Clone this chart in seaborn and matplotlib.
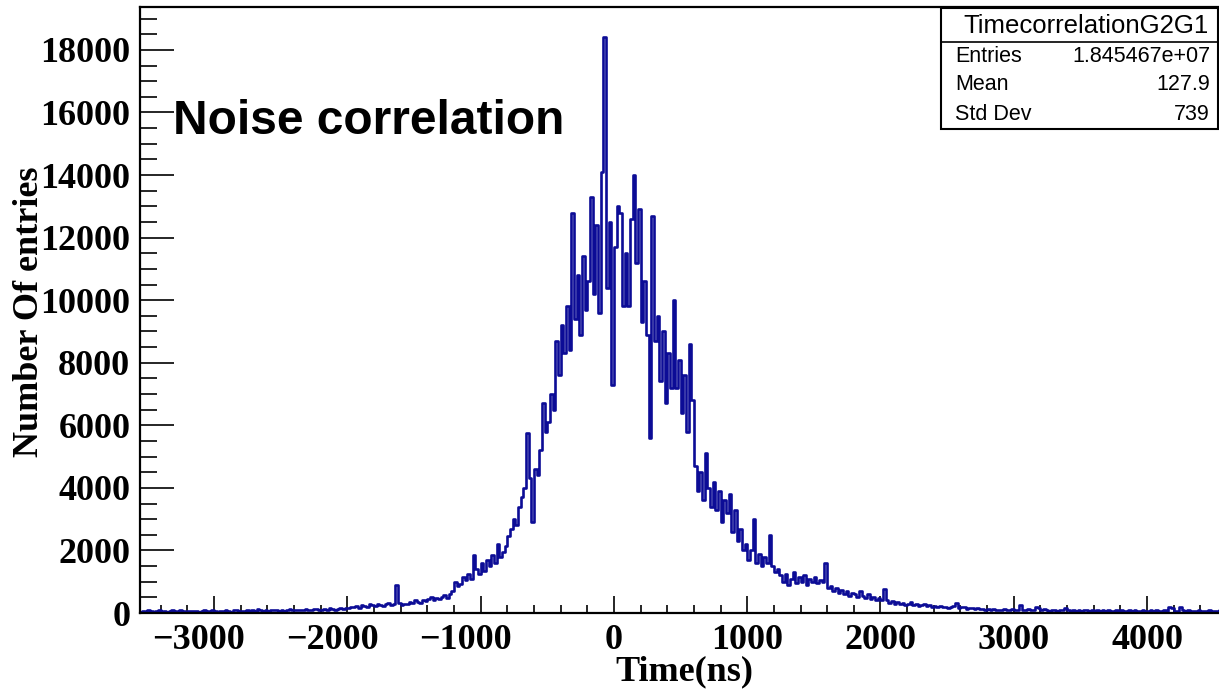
import numpy as np
import pandas as pd
import matplotlib
matplotlib.use("Agg")
import matplotlib.pyplot as plt
import matplotlib.transforms as mtransforms
import seaborn as sns
from matplotlib.ticker import MultipleLocator
from matplotlib.patches import Rectangle
from matplotlib.lines import Line2D

# ---- data, 20 ns bins ----
bin_start = -3560
bin_width = 20
counts = [
    # -3560 .. -3160
    40, 60, 30, 80, 50, 20, 60, 90, 40, 70, 30, 50, 110, 60, 40, 80, 50, 30, 70, 60,
    # -3160 .. -2760
    50, 70, 40, 60, 90, 50, 30, 80, 60, 40, 70, 50, 90, 60, 40, 80, 100, 60, 70, 50,
    # -2760 .. -2360
    80, 60, 90, 70, 130, 80, 60, 100, 70, 90, 80, 110, 70, 100, 60, 90, 120, 80, 100, 90,
    # -2360 .. -1960
    110, 90, 130, 100, 80, 120, 140, 100, 90, 130, 110, 150, 120, 100, 140, 170, 130, 160, 150, 190,
    # -1960 .. -1560
    180, 220, 160, 260, 230, 200, 280, 240, 210, 300, 260, 230, 280, 320, 250, 290, 900, 320, 270, 300,
    # -1560 .. -1160
    280, 350, 320, 400, 360, 330, 420, 380, 450, 520, 410, 480, 440, 500, 560, 480, 620, 700, 980, 850,
    # -1160 .. -760
    920, 1150, 1050, 1250, 1100, 1850, 1400, 1250, 1600, 1350, 1700, 1500, 1850, 1600, 2200, 1800, 1950, 2150, 2450, 2700,
    # -760 .. -360
    3000, 2800, 3400, 3700, 4000, 5750, 4300, 2900, 4600, 4400, 5200, 6700, 5800, 6100, 7000, 6500, 8700, 7600, 9200, 8300,
    # -360 .. 40
    9800, 8400, 12800, 9400, 10800, 8900, 11400, 9700, 10600, 13300, 10200, 12400, 9600, 14100, 18400, 10400, 12500, 7300, 11700, 13000,
    # 40 .. 440
    12800, 9800, 11500, 9800, 12600, 14000, 11200, 12900, 9300, 10600, 8900, 5600, 12700, 8700, 9500, 7400, 9000, 6700, 8300, 7200,
    # 440 .. 840
    10000, 7200, 8100, 6400, 7600, 5800, 8600, 6800, 4700, 3900, 4500, 3600, 5100, 4000, 3400, 4200, 3300, 3900, 2900, 3600,
    # 840 .. 1240
    3200, 3800, 2600, 3300, 2300, 2700, 2000, 2200, 1700, 2000, 3000, 1600, 1900, 1500, 1800, 1600, 2500, 1500, 1300, 1400,
    # 1240 .. 1640
    1200, 1000, 1250, 900, 1100, 1300, 950, 1150, 1000, 1200, 900, 1100, 1000, 1150, 950, 1050, 1000, 1600, 800, 850,
    # 1640 .. 2040
    700, 800, 650, 750, 600, 700, 550, 650, 600, 500, 700, 550, 480, 600, 450, 520, 400, 480, 420, 780,
    # 2040 .. 2440
    400, 330, 380, 300, 350, 280, 320, 260, 300, 350, 240, 280, 220, 260, 300, 210, 250, 190, 230, 200,
    # 2440 .. 2840
    220, 180, 200, 160, 190, 230, 320, 150, 180, 200, 140, 170, 160, 130, 150, 120, 140, 110, 130, 100,
    # 2840 .. 3240
    120, 90, 110, 80, 130, 100, 90, 120, 80, 110, 270, 100, 90, 130, 80, 110, 200, 150, 90, 120,
    # 3240 .. 3640
    90, 70, 100, 80, 60, 110, 90, 170, 80, 60, 90, 70, 100, 60, 80, 90, 70, 110, 60, 80,
    # 3640 .. 4040
    70, 90, 60, 80, 50, 70, 100, 60, 80, 50, 70, 90, 60, 80, 70, 50, 90, 60, 70, 80,
    # 4040 .. 4440
    60, 80, 50, 70, 90, 60, 180, 150, 70, 60, 180, 80, 60, 90, 50, 70, 60, 80, 50, 70,
    # 4440 .. 4560
    60, 90, 50, 70, 60, 80,
]

x_ticks = [-3000, -2000, -1000, 0, 1000, 2000, 3000, 4000]
x_tick_labels = ["\u22123000", "\u22122000", "\u22121000", "0", "1000", "2000", "3000", "4000"]
y_ticks = [0, 2000, 4000, 6000, 8000, 10000, 12000, 14000, 16000, 18000]
y_tick_labels = ["0", "2000", "4000", "6000", "8000", "10000", "12000", "14000", "16000", "18000"]

hist_name = "TimecorrelationG2G1"
stats_labels = ["Entries", "Mean", "Std Dev"]
stats_values = ["1.845467e+07", "127.9", "739"]
title_text = "Noise correlation"
x_label = "Time(ns)"
y_label = "Number Of entries"

n_bins = len(counts)
bin_end = bin_start + bin_width * n_bins
centers = bin_start + bin_width * (np.arange(n_bins) + 0.5)
df = pd.DataFrame({"time": centers, "n": counts})

# ---- figure ----
sns.set_theme(style="white")
plt.rcParams["font.family"] = ["Liberation Serif", "DejaVu Serif"]

W, H = 1219, 695
fig = plt.figure(figsize=(W / 100, H / 100), dpi=100)
left_px, right_px, top_px, bottom_px = 140, 1223, 7, 613
ax = fig.add_axes([left_px / W, (H - bottom_px) / H,
                   (right_px - left_px) / W, (bottom_px - top_px) / H])

line_color = "#0c0c96"
sns.histplot(data=df, x="time", weights="n", binwidth=bin_width,
             binrange=(bin_start, bin_end), element="step",
             fill=False, color=line_color, linewidth=1.9, ax=ax)

px_per_ns = 133.3 / 1000
ax.set_xlim(-3555, -3555 + (right_px - left_px) / px_per_ns)
ax.set_ylim(0, 19370)

for s in ax.spines.values():
    s.set_visible(True)
    s.set_color("black")
    s.set_linewidth(1.6)
ax.spines["right"].set_visible(False)

ax.set_xticks(x_ticks)
ax.set_xticklabels(x_tick_labels)
ax.set_yticks(y_ticks)
ax.set_yticklabels(y_tick_labels)
ax.xaxis.set_minor_locator(MultipleLocator(200))
ax.yaxis.set_minor_locator(MultipleLocator(500))

ax.tick_params(axis="x", which="major", direction="in", length=12.5, width=1.4,
               labelsize=26, pad=8, bottom=True, top=False)
ax.tick_params(axis="x", which="minor", direction="in", length=6, width=1.4,
               bottom=True, top=False)
ax.tick_params(axis="y", which="major", direction="in", length=24.5, width=1.4,
               labelsize=26, pad=7, left=True, right=False)
ax.tick_params(axis="y", which="minor", direction="in", length=12, width=1.4,
               left=True, right=False)
for lab in ax.get_xticklabels() + ax.get_yticklabels():
    lab.set_fontweight("bold")
    lab.set_color("black")

# ROOT centres the digits, letting the minus sign stick out to the left
shift = mtransforms.ScaledTranslation(-15 / 100, 0, fig.dpi_scale_trans)
for lab in ax.get_xticklabels():
    if lab.get_text().startswith("\u2212"):
        lab.set_transform(lab.get_transform() + shift)

ax.set_xlabel(x_label, fontsize=26, fontweight="bold", color="black")
ax.xaxis.set_label_coords((684 - left_px) / (right_px - left_px),
                          -(672 - bottom_px) / (bottom_px - top_px))
ax.xaxis.label.set_verticalalignment("center")
ax.set_ylabel(y_label, fontsize=26, fontweight="bold", color="black")
ax.yaxis.label.set_verticalalignment("center")
ax.yaxis.set_label_coords((30 - left_px) / (right_px - left_px),
                          (bottom_px - 312) / (bottom_px - top_px))

# big annotation
ax.text((173 - left_px) / (right_px - left_px), (bottom_px - 121) / (bottom_px - top_px),
        title_text, transform=ax.transAxes, fontsize=34.5, fontweight="bold",
        family=["Liberation Sans", "DejaVu Sans"], color="black",
        ha="left", va="center")

# stats box (ROOT style)
bx0, bx1, by0, by1, bsep = 941, 1218, 8, 129, 42
def fx(px):
    return px / W
def fy(py):
    return (H - py) / H
fig.patches.append(Rectangle((fx(bx0), fy(by1)), fx(bx1) - fx(bx0), fy(by0) - fy(by1),
                             transform=fig.transFigure, facecolor="white",
                             edgecolor="black", linewidth=1.5, zorder=10))
fig.lines.append(Line2D([fx(bx0), fx(bx1)], [fy(bsep), fy(bsep)],
                        transform=fig.transFigure, color="black", linewidth=1.2, zorder=11))
fig.text(fx(1086), fy(26), hist_name, ha="center", va="center",
         fontsize=18.5, family=["Liberation Sans", "DejaVu Sans"], color="black", zorder=12)
row_y = [56, 85, 115]
for lab, val, yy in zip(stats_labels, stats_values, row_y):
    fig.text(fx(955), fy(yy), lab, ha="left", va="center", fontsize=15.5,
             family=["Liberation Sans", "DejaVu Sans"], color="black", zorder=12)
    fig.text(fx(1210), fy(yy), val, ha="right", va="center", fontsize=15.5,
             family=["Liberation Sans", "DejaVu Sans"], color="black", zorder=12)

fig.savefig("out.png", dpi=100, facecolor="white")
